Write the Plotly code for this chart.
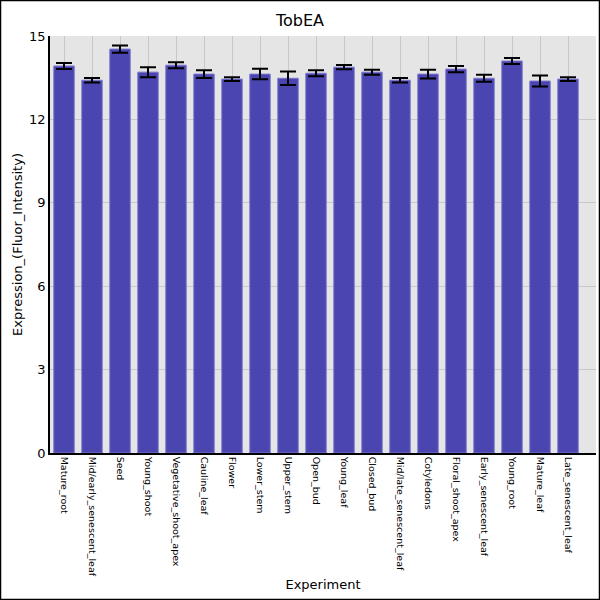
import plotly.graph_objects as go

categories = ["Mature_root", "Mid/early_senescent_leaf", "Seed", "Young_shoot",
              "Vegetative_shoot_apex", "Cauline_leaf", "Flower", "Lower_stem",
              "Upper_stem", "Open_bud", "Young_leaf", "Closed_bud",
              "Mid/late_senescent_leaf", "Cotyledons", "Floral_shoot_apex",
              "Early_senescent_leaf", "Young_root", "Mature_leaf", "Late_senescent_leaf"]
values = [13.92, 13.41, 14.53, 13.70, 13.95, 13.63, 13.45, 13.63, 13.48, 13.66,
          13.88, 13.70, 13.41, 13.63, 13.81, 13.48, 14.10, 13.38, 13.45]
errors = [0.11, 0.08, 0.13, 0.18, 0.11, 0.14, 0.07, 0.19, 0.24, 0.11,
          0.08, 0.09, 0.08, 0.16, 0.11, 0.13, 0.11, 0.20, 0.07]
y_ticks = [0, 3, 6, 9, 12, 15]

W, H = 600, 600
ML, MR, MT, MB = 50, 4, 36, 147
pw, ph = W - ML - MR, H - MT - MB

fig = go.Figure(go.Bar(
    x=categories, y=values,
    marker=dict(color="rgb(74,69,176)", line=dict(color="rgb(125,120,205)", width=1)),
    error_y=dict(type="data", array=errors, color="black", thickness=2, width=8),
    width=0.73,
))

fig.update_layout(
    width=W, height=H,
    margin=dict(l=ML, r=MR, t=MT, b=MB, autoexpand=False),
    paper_bgcolor="white", plot_bgcolor="rgb(229,229,229)",
    font=dict(family="DejaVu Sans", color="black"),
    title=dict(text="TobEA", x=0.5, xref="container", y=1 - 20 / H, yanchor="middle",
               font=dict(size=16, color="black")),
    showlegend=False,
    xaxis=dict(
        title=dict(text="Experiment", font=dict(size=13), standoff=4),
        range=[-0.5, 19.0],
        tickangle=90, tickfont=dict(size=9.5), showgrid=True,
        gridcolor="rgb(200,200,200)", gridwidth=1,
        showline=True, linecolor="black", linewidth=1.5,
        ticks="", automargin=False,
    ),
    yaxis=dict(
        title=dict(text="Expression_(Fluor_Intensity)", font=dict(size=13), standoff=4),
        range=[0, 15], tickvals=y_ticks, ticktext=[str(t) for t in y_ticks],
        tickfont=dict(size=13), showgrid=True, gridcolor="rgb(200,200,200)", gridwidth=1,
        zeroline=False, showline=True, linecolor="black", linewidth=1.5,
        ticks="", automargin=False,
    ),
)

fig.add_shape(type="rect", xref="paper", yref="paper",
              x0=-(ML - 0.5) / pw, x1=1 + (MR - 0.5) / pw,
              y0=-(MB - 0.5) / ph, y1=1 + (MT - 0.5) / ph,
              line=dict(color="black", width=1.5), fillcolor="rgba(0,0,0,0)", layer="above")

fig.write_html("out.html", config={"displayModeBar": False},
               post_script="document.body.style.margin='0';document.body.style.overflow='hidden';")
